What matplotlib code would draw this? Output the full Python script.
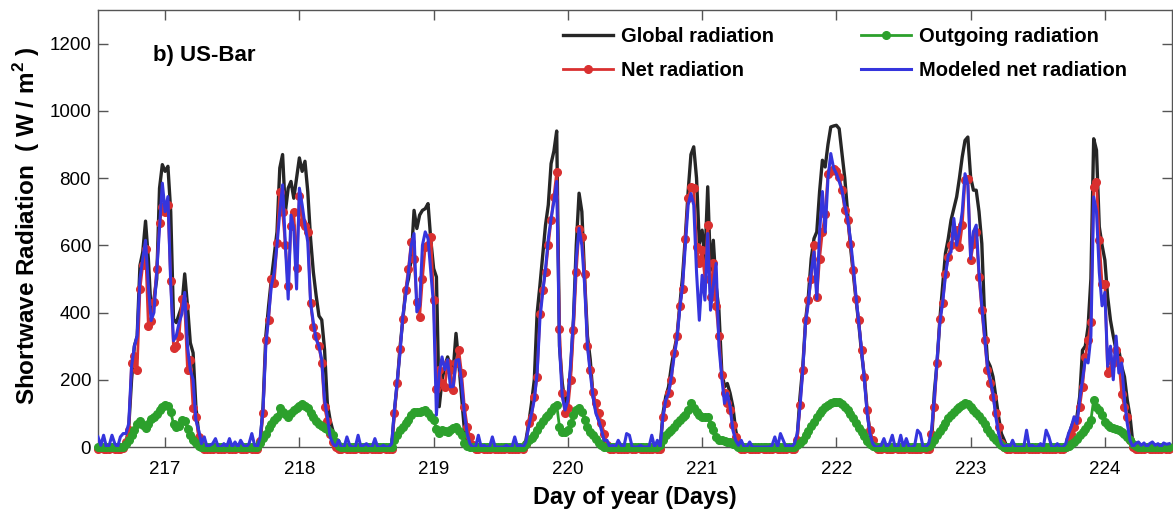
import numpy as np
import matplotlib

matplotlib.use("Agg")
import matplotlib.pyplot as plt

# half-hourly values, each day window runs from N-0.5 to N+0.5 (48 samples)
start_day = 216.5
steps_per_day = 48
days = [217, 218, 219, 220, 221, 222, 223, 224]

global_217 = [0, 0, 0, 0, 0, 0, 0, 0, 0, 0, 10, 60,
              200, 300, 330, 540, 580, 672, 560, 400, 440, 500, 770, 840,
              820, 835, 700, 380, 370, 395, 420, 515, 420, 310, 280, 120,
              40, 10, 0, 0, 0, 0, 0, 0, 0, 0, 0, 0]
global_218 = [0, 0, 0, 0, 0, 0, 0, 0, 0, 0, 10, 120,
              330, 420, 500, 570, 640, 830, 870, 700, 770, 790, 740, 800,
              860, 820, 850, 760, 620, 520, 450, 390, 378, 290, 130, 80,
              48, 8, 0, 0, 0, 0, 0, 0, 0, 0, 0, 0]
global_219 = [0, 0, 0, 0, 0, 0, 0, 0, 0, 0, 110, 190,
              298, 380, 467, 500, 560, 704, 650, 690, 704, 709, 724, 615,
              531, 506, 120, 199, 240, 268, 240, 229, 338, 249, 150, 50,
              5, 0, 0, 0, 0, 0, 0, 0, 0, 0, 0, 0]
global_220 = [0, 0, 0, 0, 0, 0, 0, 0, 0, 20, 70, 130,
              200, 397, 480, 570, 660, 720, 843, 880, 940, 300, 190, 130,
              150, 230, 380, 600, 755, 700, 500, 330, 260, 150, 110, 80,
              70, 20, 0, 0, 0, 0, 0, 0, 0, 0, 0, 0]
global_221 = [0, 0, 0, 0, 0, 0, 0, 0, 0, 0, 100, 150,
              179, 240, 288, 328, 420, 506, 625, 760, 870, 893, 800, 605,
              645, 556, 774, 526, 615, 480, 407, 229, 179, 189, 160, 120,
              50, 11, 0, 0, 0, 0, 0, 0, 0, 0, 0, 0]
global_222 = [0, 0, 0, 0, 0, 0, 0, 0, 0, 0, 30, 150,
              240, 377, 450, 560, 620, 640, 760, 853, 833, 900, 952, 955,
              957, 947, 873, 800, 700, 600, 520, 440, 368, 280, 209, 110,
              40, 11, 0, 0, 0, 0, 0, 0, 0, 0, 0, 0]
global_223 = [0, 0, 0, 0, 0, 0, 0, 0, 0, 0, 11, 160,
              250, 380, 480, 576, 620, 675, 710, 744, 800, 863, 912, 922,
              803, 764, 764, 700, 605, 387, 258, 240, 209, 150, 90, 40,
              21, 0, 0, 0, 0, 0, 0, 0, 0, 0, 0, 0]
global_224 = [0, 0, 0, 0, 0, 0, 0, 0, 0, 0, 5, 30,
              60, 80, 90, 150, 288, 300, 358, 500, 917, 883, 655, 600,
              556, 447, 377, 330, 288, 288, 240, 209, 140, 90, 11, 0,
              0, 0, 0, 0, 0, 0, 0, 0, 0, 0, 0, 0]

net_217 = [-5, -4, -5, -6, -5, -4, -5, -5, -6, -4, 15, 50,
           250, 270, 230, 470, 540, 590, 360, 375, 430, 530, 665, 715,
           700, 720, 495, 295, 300, 330, 440, 420, 230, 260, 115, 90,
           30, 5, -5, -6, -5, -5, -4, -6, -5, -5, -4, -5]
net_218 = [-5, -5, -4, -6, -5, -5, -4, -5, -6, -5, 18, 100,
           318, 378, 500, 488, 608, 760, 700, 600, 478, 658, 698, 533,
           748, 668, 658, 640, 428, 358, 330, 300, 250, 118, 78, 40,
           15, 0, -5, -5, -4, -6, -5, -5, -5, -4, -6, -5]
net_219 = [-5, -4, -5, -5, -6, -5, -4, -5, -5, -5, 100, 190,
           293, 380, 467, 531, 610, 560, 432, 387, 500, 595, 600, 625,
           437, 174, 229, 190, 179, 249, 230, 170, 250, 288, 219, 120,
           60, 30, 5, -5, -5, -4, -6, -5, -5, -4, -5, -5]
net_220 = [-5, -5, -4, -5, -6, -5, -5, -4, -5, 10, 70, 90,
           150, 209, 397, 466, 520, 600, 675, 745, 818, 350, 160, 100,
           115, 200, 348, 520, 650, 625, 516, 300, 230, 164, 130, 100,
           70, 40, 5, -5, -5, -4, -5, -6, -5, -5, -4, -5]
net_221 = [-5, -4, -5, -5, -5, -6, -5, -4, -5, -5, 90, 130,
           160, 200, 279, 330, 420, 470, 620, 740, 774, 769, 595, 546,
           585, 500, 660, 447, 546, 420, 330, 214, 160, 130, 110, 65,
           30, 5, -5, -5, -4, -5, -5, -6, -5, -4, -5, -5]
net_222 = [-5, -5, -4, -5, -6, -5, -5, -4, -5, -5, 20, 125,
           229, 377, 437, 500, 600, 447, 560, 640, 694, 813, 820, 828,
           820, 803, 764, 704, 674, 605, 526, 440, 377, 288, 209, 110,
           50, 21, 0, -5, -5, -4, -6, -5, -5, -4, -5, -5]
net_223 = [-5, -4, -5, -5, -5, -6, -5, -4, -5, -5, 40, 120,
           250, 380, 427, 516, 566, 600, 630, 645, 595, 660, 794, 798,
           556, 605, 640, 506, 407, 318, 230, 190, 150, 100, 60, 11,
           0, -5, -5, -4, -5, -5, -6, -5, -4, -5, -5, -5]
net_224 = [-5, -4, -5, -5, -6, -5, -5, -4, -5, -5, 0, 20,
           40, 60, 80, 120, 179, 268, 318, 372, 774, 789, 615, 486,
           486, 219, 229, 250, 288, 260, 159, 120, 90, 21, 0, -5,
           -5, -6, -5, -4, -5, -5, -6, -5, -5, -4, -5, -5]

outgoing_217 = [0, 0, 0, 0, 0, 0, 0, 0, 0, 0, 8, 20,
                35, 50, 68, 78, 65, 58, 68, 83, 90, 98, 110, 118,
                125, 122, 105, 68, 60, 62, 80, 78, 55, 35, 22, 12,
                4, 0, 0, 0, 0, 0, 0, 0, 0, 0, 0, 0]
outgoing_218 = [0, 0, 0, 0, 0, 0, 0, 0, 0, 0, 12, 28,
                40, 58, 68, 80, 90, 115, 105, 98, 88, 100, 110, 117,
                122, 127, 122, 115, 100, 88, 78, 68, 62, 58, 55, 45,
                35, 15, 3, 0, 0, 0, 0, 0, 0, 0, 0, 0]
outgoing_219 = [0, 0, 0, 0, 0, 0, 0, 0, 0, 0, 21, 35,
                50, 60, 70, 80, 95, 105, 105, 105, 108, 110, 100, 90,
                80, 55, 41, 50, 48, 45, 52, 58, 60, 48, 35, 11,
                3, 0, 0, 0, 0, 0, 0, 0, 0, 0, 0, 0]
outgoing_220 = [0, 0, 0, 0, 0, 0, 0, 0, 0, 10, 21, 28,
                36, 50, 65, 78, 88, 95, 108, 120, 125, 60, 45, 45,
                50, 70, 95, 110, 115, 105, 80, 60, 45, 36, 25, 11,
                5, 0, 0, 0, 0, 0, 0, 0, 0, 0, 0, 0]
outgoing_221 = [0, 0, 0, 0, 0, 0, 0, 0, 0, 5, 21, 35,
                45, 50, 60, 70, 80, 88, 95, 110, 130, 115, 105, 95,
                90, 90, 90, 65, 50, 30, 21, 21, 18, 16, 16, 10,
                6, 0, 0, 0, 0, 0, 0, 0, 0, 0, 0, 0]
outgoing_222 = [0, 0, 0, 0, 0, 0, 0, 0, 0, 0, 5, 12,
                22, 35, 48, 62, 75, 88, 100, 110, 118, 125, 130, 135,
                135, 133, 128, 120, 110, 98, 85, 70, 57, 45, 32, 18,
                8, 2, 0, 0, 0, 0, 0, 0, 0, 0, 0, 0]
outgoing_223 = [0, 0, 0, 0, 0, 0, 0, 0, 0, 2, 8, 20,
                35, 48, 60, 72, 85, 95, 105, 112, 118, 125, 130, 128,
                118, 110, 102, 92, 80, 68, 55, 42, 30, 20, 12, 5,
                0, 0, 0, 0, 0, 0, 0, 0, 0, 0, 0, 0]
outgoing_224 = [0, 0, 0, 0, 0, 0, 0, 0, 0, 0, 0, 3,
                8, 15, 25, 35, 45, 55, 65, 80, 140, 120, 110, 95,
                75, 65, 60, 58, 55, 50, 45, 38, 30, 20, 10, 3,
                0, 0, 0, 0, 0, 0, 0, 0, 0, 0, 0, 0]

modeled_217 = [30, 5, 35, 0, 5, 35, 10, 0, 30, 40, 40, 70,
               240, 300, 330, 500, 560, 615, 480, 376, 400, 520, 650, 785,
               700, 745, 485, 316, 331, 370, 396, 460, 300, 230, 200, 80,
               50, 10, 30, 0, 5, 10, 25, 0, 0, 10, 0, 25]
modeled_218 = [0, 15, 0, 20, 5, 0, 10, 40, 5, 0, 30, 110,
               300, 390, 480, 520, 600, 700, 780, 600, 440, 690, 650, 470,
               770, 720, 660, 610, 430, 370, 320, 300, 260, 140, 90, 30,
               10, 0, 20, 0, 0, 30, 5, 0, 0, 35, 0, 5]
modeled_219 = [10, 0, 0, 25, 0, 0, 5, 0, 0, 10, 110, 200,
               280, 390, 450, 520, 600, 635, 402, 420, 600, 640, 620, 520,
               420, 95, 220, 268, 230, 260, 179, 180, 258, 260, 190, 100,
               40, 10, 0, 0, 35, 0, 5, 0, 0, 30, 0, 0]
modeled_220 = [0, 0, 5, 0, 0, 30, 0, 5, 0, 15, 60, 100,
               140, 220, 380, 460, 530, 620, 680, 730, 790, 300, 150, 110,
               140, 250, 380, 560, 650, 600, 480, 300, 220, 150, 100, 80,
               50, 20, 20, 0, 5, 0, 20, 5, 0, 40, 35, 0]
modeled_221 = [0, 0, 5, 0, 0, 0, 35, 0, 20, 0, 90, 140,
               160, 210, 270, 320, 410, 480, 600, 720, 754, 720, 520, 377,
               511, 437, 635, 407, 480, 546, 300, 209, 130, 160, 120, 50,
               20, 5, 20, 0, 0, 15, 0, 0, 0, 0, 0, 0]
modeled_222 = [0, 5, 30, 0, 40, 20, 0, 5, 0, 10, 40, 120,
               230, 370, 430, 520, 580, 440, 640, 760, 640, 800, 873, 830,
               813, 790, 764, 720, 680, 620, 540, 450, 370, 290, 200, 100,
               40, 10, 0, 0, 5, 25, 0, 10, 35, 0, 0, 35]
modeled_223 = [0, 25, 0, 0, 5, 50, 40, 0, 0, 10, 50, 140,
               260, 370, 430, 510, 570, 580, 680, 600, 640, 700, 813, 780,
               560, 640, 660, 520, 420, 330, 240, 200, 160, 90, 40, 10,
               0, 5, 0, 20, 0, 0, 0, 0, 50, 0, 5, 0]
modeled_224 = [0, 10, 0, 50, 30, 0, 0, 10, 0, 0, 10, 40,
               60, 90, 70, 140, 200, 260, 250, 330, 744, 700, 520, 420,
               460, 240, 300, 200, 330, 220, 250, 140, 70, 20, 0, 10,
               15, 5, 12, 0, 10, 15, 5, 10, 0, 12, 8, 10]

global_rad = np.concatenate([global_217, global_218, global_219, global_220,
                             global_221, global_222, global_223, global_224])
net_rad = np.concatenate([net_217, net_218, net_219, net_220,
                          net_221, net_222, net_223, net_224])
outgoing_rad = np.concatenate([outgoing_217, outgoing_218, outgoing_219, outgoing_220,
                               outgoing_221, outgoing_222, outgoing_223, outgoing_224])
modeled_rad = np.concatenate([modeled_217, modeled_218, modeled_219, modeled_220,
                              modeled_221, modeled_222, modeled_223, modeled_224])
time = start_day + np.arange(len(global_rad)) / steps_per_day

plt.rcParams["font.family"] = ["Liberation Sans", "DejaVu Sans"]
plt.rcParams["mathtext.fontset"] = "custom"
plt.rcParams["mathtext.bf"] = "Liberation Sans:bold"
plt.rcParams["mathtext.rm"] = "Liberation Sans:bold"

fig = plt.figure(figsize=(11.73, 5.12), dpi=100)
ax = fig.add_axes([98 / 1173, 1 - 447 / 512, 1074 / 1173, 437 / 512])

(h_global,) = ax.plot(time, global_rad, color="#262626", linewidth=2.4, zorder=2,
                      label="Global radiation")
(h_net,) = ax.plot(time, net_rad, color="#d93030", linewidth=2.0, marker="o",
                   markersize=5.5, zorder=3, label="Net radiation", clip_on=False)
(h_out,) = ax.plot(time, outgoing_rad, color="#2ca02c", linewidth=2.0, marker="o",
                   markersize=5.5, zorder=4, label="Outgoing radiation", clip_on=False)
(h_mod,) = ax.plot(time, modeled_rad, color="#3535dd", linewidth=2.2, zorder=5,
                   label="Modeled net radiation")

ax.set_xlim(216.5, 224.5)
ax.set_ylim(0, 1300)
ax.set_xticks(days)
ax.set_yticks(range(0, 1201, 200))
ax.tick_params(direction="in", length=7, width=1, color="#555555",
               top=True, right=True, labelsize=13.5)
ax.tick_params(axis="x", pad=10)
ax.tick_params(axis="y", pad=5)
for spine in ax.spines.values():
    spine.set_color("#555555")
    spine.set_linewidth(1)

ax.set_xlabel("Day of year (Days)", fontsize=16.8, fontweight="bold", labelpad=6)
fig.text(27 / 1173, 1 - 226 / 512, r"Shortwave Radiation  ( W / m$^{\mathbf{2}}$ )",
         rotation=90, ha="center", va="center", fontsize=17.5, fontweight="bold")
ax.text(0.051, 0.895, "b) US-Bar", transform=ax.transAxes, fontsize=16,
        fontweight="bold", ha="left", va="center")

ax.legend(handles=[h_global, h_net, h_out, h_mod], ncol=2, frameon=False,
          loc="upper left", bbox_to_anchor=(0.433, 0.96), borderaxespad=0,
          borderpad=0, handlelength=2.5, handletextpad=0.4, columnspacing=4.3,
          labelspacing=0.7, prop={"size": 14.5, "weight": "bold"})

fig.savefig("out.png", dpi=100)
